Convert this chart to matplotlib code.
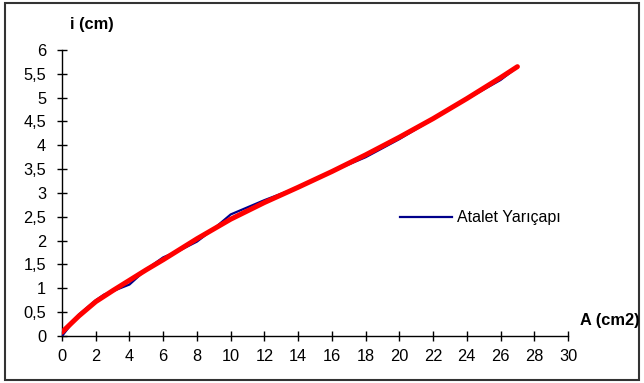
import matplotlib.pyplot as plt
from matplotlib.patches import Rectangle
from matplotlib.ticker import FixedLocator, FixedFormatter

plt.rcParams['font.family'] = ['Liberation Sans', 'DejaVu Sans']

# ölçülen değerler: alan A (cm2) ve atalet yarıçapı i (cm)
alan = [0, 1, 2, 2.5, 3, 4, 5, 6, 7, 8, 9, 10, 11, 12, 14, 16, 18, 20, 22, 24, 26, 27]
yaricap = [0, 0.45, 0.75, 0.87, 0.94, 1.08, 1.4, 1.65, 1.8, 1.98, 2.25, 2.55, 2.7,
           2.85, 3.12, 3.45, 3.75, 4.13, 4.55, 4.97, 5.37, 5.64]

# eğilim çizgisi
trend_x = [0, 1, 2, 3, 4, 5, 6, 7, 8, 10, 12, 14, 16, 18, 20, 22, 24, 26, 27]
trend_y = [0.08, 0.42, 0.72, 0.95, 1.17, 1.39, 1.6, 1.82, 2.04, 2.45, 2.8, 3.12,
           3.45, 3.8, 4.17, 4.56, 4.98, 5.42, 5.65]

x_ticks = list(range(0, 31, 2))
y_ticks = [0, 0.5, 1, 1.5, 2, 2.5, 3, 3.5, 4, 4.5, 5, 5.5, 6]
y_labels = ['0', '0,5', '1', '1,5', '2', '2,5', '3', '3,5', '4', '4,5', '5', '5,5', '6']

fig = plt.figure(figsize=(6.44, 3.83), dpi=100)
ax = fig.add_axes([0.0963, 0.1227, 0.7857, 0.7468])

ax.plot(alan, yaricap, color='#00008b', lw=1.6, label='Atalet Yarıçapı', zorder=3)
ax.plot(trend_x, trend_y, color='#ff0000', lw=3.6, solid_capstyle='round', zorder=4)

ax.set_xlim(0, 30)
ax.set_ylim(0, 6)
ax.xaxis.set_major_locator(FixedLocator(x_ticks))
ax.yaxis.set_major_locator(FixedLocator(y_ticks))
ax.yaxis.set_major_formatter(FixedFormatter(y_labels))
ax.tick_params(direction='inout', length=7, width=1, labelsize=11.8, colors='black')
ax.tick_params(axis='x', pad=6)
ax.tick_params(axis='y', pad=8)
for s in ['top', 'right']:
    ax.spines[s].set_visible(False)
for s in ['left', 'bottom']:
    ax.spines[s].set_linewidth(1)

fig.text(0.143, 0.935, 'i (cm)', fontsize=11.8, fontweight='bold', ha='center', va='center')
fig.text(0.947, 0.162, 'A (cm2)', fontsize=11.8, fontweight='bold', ha='center', va='center')

ax.legend(loc='center left', bbox_to_anchor=(0.621, 0.431), bbox_transform=fig.transFigure,
          frameon=False, fontsize=11.5, handlelength=3.25, handletextpad=0.3,
          borderaxespad=0, borderpad=0)

# çerçeve
fig.patches.append(Rectangle((0.008, 0.008), 0.985, 0.985, transform=fig.transFigure,
                             fill=False, edgecolor='#333333', lw=1.5))

fig.savefig('out.png', dpi=100)
